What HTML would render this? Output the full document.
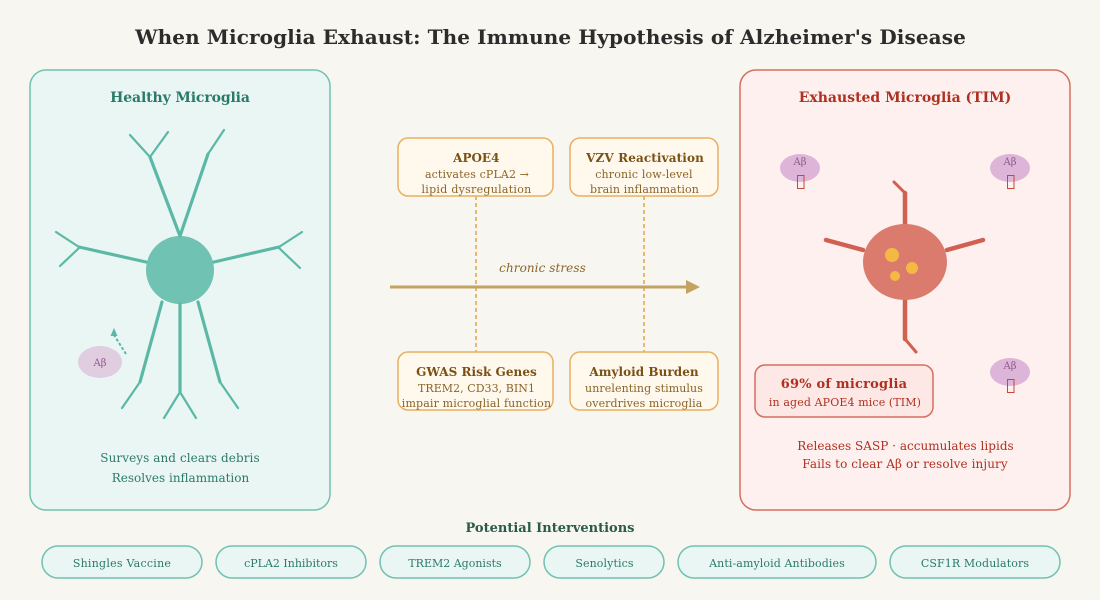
<!DOCTYPE html>
<html><head><meta charset="utf-8"><style>
html,body{margin:0;padding:0;background:#f8f6f0}
svg{display:block}
text{font-family:"DejaVu Serif",serif;text-anchor:middle}
</style></head><body>
<svg width="1100" height="600" viewBox="0 0 1100 600" xmlns="http://www.w3.org/2000/svg">
<rect width="1100" height="600" fill="#f8f6f0"/>
<text x="550.500" y="44" font-size="20" font-weight="bold" fill="#2c2c2c" letter-spacing="0.100">When Microglia Exhaust: The Immune Hypothesis of Alzheimer's Disease</text>

<!-- Healthy -->
<rect x="30" y="70" width="300" height="440" rx="16" fill="#eaf6f3" stroke="#5bb8a6" stroke-width="1.500" stroke-opacity=".85"/>
<text x="180" y="102" font-size="14" font-weight="bold" fill="#2a7a6a" letter-spacing="-0.120">Healthy Microglia</text>
<g fill="none" stroke="#5bb8a6" stroke-linecap="round" stroke-linejoin="round">
<g stroke-width="3.200">
<path d="M180 236L150 157M180 236L208 154M146 262L79 247M214 262L279 247M162 302L140 382M180 304V392M198 302L220 382"/>
</g>
<g stroke-width="2.200">
<path d="M150 157L130 135M150 157L168 132M208 154L224 130M79 247L56 232M79 248L60 266M279 247L302 232M279 248L300 268M140 382L122 408M180 392L164 418M180 392L196 418M220 382L238 408"/>
</g>
</g>
<circle cx="180" cy="270" r="34" fill="#5bb8a6" fill-opacity=".85"/>
<ellipse cx="100" cy="362" rx="22" ry="16" fill="#e0cde0"/>
<text x="100" y="366" font-size="10" fill="#8e5a8e">Aβ</text>
<path d="M126 354L114 335" stroke="#5bb8a6" stroke-width="2" stroke-dasharray="3 2" fill="none"/>
<path d="M114 328L110.500 336L117.500 336Z" fill="#5bb8a6"/>
<text x="180" y="462" font-size="12" fill="#2a7a6a" letter-spacing="0.080">Surveys and clears debris</text>
<text x="180.500" y="482" font-size="12" fill="#2a7a6a">Resolves inflammation</text>

<!-- Centre -->
<path d="M476 196V352M644 196V352" stroke="#e8b86d" stroke-width="2" stroke-dasharray="4 3" fill="none"/>
<path d="M390 287H688" stroke="#c4a262" stroke-width="3"/>
<path d="M686 280L700 287L686 294Z" fill="#c4a262"/>
<text x="542.500" y="272" font-size="12" font-style="italic" fill="#8a6428" letter-spacing="0.070">chronic stress</text>
<g fill="#fff8ec" stroke="#e8b060" stroke-width="1.500">
<rect x="398" y="138" width="155" height="58" rx="10"/>
<rect x="570" y="138" width="148" height="58" rx="10"/>
<rect x="398" y="352" width="155" height="58" rx="10"/>
<rect x="570" y="352" width="148" height="58" rx="10"/>
</g>
<g font-size="12" font-weight="bold" fill="#7a5014">
<text x="476.300" y="162">APOE4</text>
<text x="645" y="162" letter-spacing="0.120">VZV Reactivation</text>
<text x="476.500" y="376" letter-spacing="0.050">GWAS Risk Genes</text>
<text x="644" y="376" letter-spacing="0.050">Amyloid Burden</text>
</g>
<g font-size="11" fill="#8a6428">
<text x="477" y="178" letter-spacing="0.120">activates cPLA2 →</text>
<text x="476.500" y="193" letter-spacing="0.280">lipid dysregulation</text>
<text x="644" y="178" letter-spacing="0.150">chronic low-level</text>
<text x="644.500" y="193" letter-spacing="0.120">brain inflammation</text>
<text x="476.500" y="392" letter-spacing="0.050">TREM2, CD33, BIN1</text>
<text x="476.500" y="407" letter-spacing="0.150">impair microglial function</text>
<text x="644" y="392" letter-spacing="0.100">unrelenting stimulus</text>
<text x="644" y="407" letter-spacing="0.100">overdrives microglia</text>
</g>

<!-- Exhausted -->
<rect x="740" y="70" width="330" height="440" rx="16" fill="#fef0ee" stroke="#d06050" stroke-width="1.500" stroke-opacity=".9"/>
<text x="905" y="102" font-size="14" font-weight="bold" fill="#b03020">Exhausted Microglia (TIM)</text>
<g fill="none" stroke="#d06050" stroke-linecap="round" stroke-linejoin="round">
<path d="M905 225V193M863 250L826 240M947 250L983 240M905 300V339" stroke-width="4.500"/>
<path d="M905 193L894 182M905 339L916 352" stroke-width="3"/>
</g>
<ellipse cx="905" cy="262" rx="42" ry="38" fill="#db7b6d"/>
<circle cx="892" cy="255" r="7" fill="#f4b942"/>
<circle cx="912" cy="268" r="6" fill="#f4b942"/>
<circle cx="895" cy="276" r="5" fill="#f4b942"/>
<g fill="#ddb5d8">
<ellipse cx="800" cy="168" rx="20" ry="14"/>
<ellipse cx="1010" cy="168" rx="20" ry="14"/>
<ellipse cx="1010" cy="372" rx="20" ry="14"/>
</g>
<g font-size="10" fill="#8e5a8e">
<text x="800" y="165">Aβ</text>
<text x="1010" y="165">Aβ</text>
<text x="1010" y="369">Aβ</text>
</g>
<g fill="none" stroke="#c84838" stroke-width="1">
<rect x="797.500" y="175.500" width="6.500" height="13"/>
<rect x="1007.500" y="175.500" width="6.500" height="13"/>
<rect x="1007.500" y="379.500" width="6.500" height="13"/>
</g>
<rect x="755" y="365" width="178" height="52" rx="10" fill="#fde8e6" stroke="#d06050" stroke-width="1.500" stroke-opacity=".9"/>
<text x="844" y="388" font-size="13" font-weight="bold" fill="#b03020" letter-spacing="0.200">69% of microglia</text>
<text x="845" y="406" font-size="11" fill="#b03020" letter-spacing="0.120">in aged APOE4 mice (TIM)</text>
<text x="905.500" y="450" font-size="12" fill="#b03020" letter-spacing="0.030">Releases SASP · accumulates lipids</text>
<text x="905" y="468" font-size="12" fill="#b03020" letter-spacing="0.100">Fails to clear Aβ or resolve injury</text>

<!-- Interventions -->
<text x="550" y="532" font-size="13" font-weight="bold" fill="#2a5a4a">Potential Interventions</text>
<g fill="#eaf6f3" stroke="#5bb8a6" stroke-width="1.500" stroke-opacity=".85">
<rect x="42" y="546" width="160" height="32" rx="16"/>
<rect x="216" y="546" width="150" height="32" rx="16"/>
<rect x="380" y="546" width="150" height="32" rx="16"/>
<rect x="544" y="546" width="120" height="32" rx="16"/>
<rect x="678" y="546" width="198" height="32" rx="16"/>
<rect x="890" y="546" width="170" height="32" rx="16"/>
</g>
<g font-size="11" fill="#2a7a6a">
<text x="122" y="567" letter-spacing="0.250">Shingles Vaccine</text>
<text x="291" y="567">cPLA2 Inhibitors</text>
<text x="455" y="567">TREM2 Agonists</text>
<text x="604.500" y="567" letter-spacing="0.100">Senolytics</text>
<text x="777" y="567" letter-spacing="0.100">Anti-amyloid Antibodies</text>
<text x="975" y="567" letter-spacing="0.120">CSF1R Modulators</text>
</g>
</svg>
</body></html>
